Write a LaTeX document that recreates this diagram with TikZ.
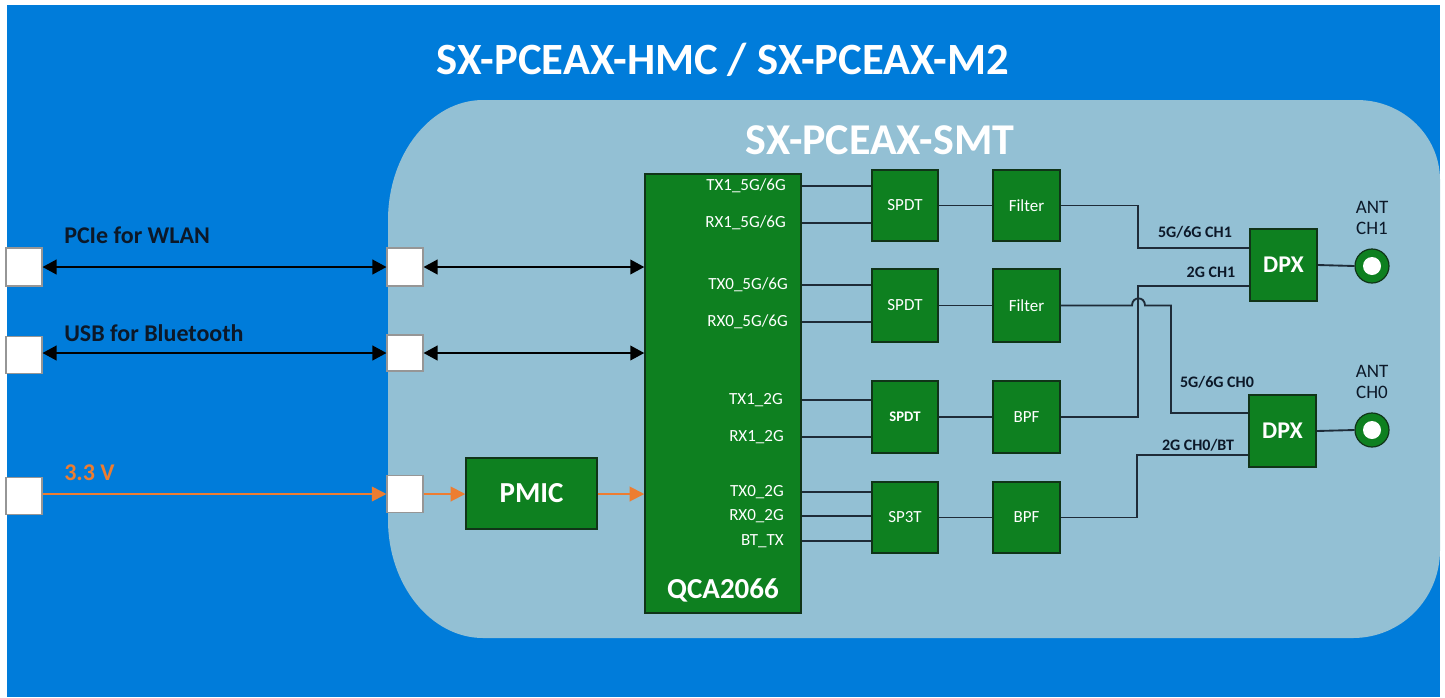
\documentclass[tikz,border=0pt]{standalone}
\usepackage{fontspec}
\setmainfont{Carlito}
\usetikzlibrary{arrows.meta}
\definecolor{bgblue}{RGB}{0,124,218}
\definecolor{smtblue}{RGB}{147,192,212}
\definecolor{chipgreen}{RGB}{14,128,32}
\definecolor{boxedge}{RGB}{16,52,24}
\definecolor{portedge}{RGB}{150,150,150}
\definecolor{rfline}{RGB}{30,43,56}
\definecolor{pwr}{RGB}{237,125,49}
\definecolor{darktxt}{RGB}{12,24,40}
\newcommand{\myfs}[1]{\fontsize{#1}{1.2\dimexpr#1\relax}\selectfont}
\begin{document}
\begin{tikzpicture}[x=0.75pt,y=-0.75pt,
  wh/.style 2 args={minimum width=#1*0.75pt, minimum height=#2*0.75pt},
  box/.style={draw=boxedge, fill=chipgreen, line width=1.1pt, inner sep=0pt, text=white},
  port/.style={draw=portedge, fill=white, line width=0.8pt, inner sep=0pt},
  pinlbl/.style={anchor=east, inner sep=0pt, text=white, font=\myfs{12.75pt}},
  chlbl/.style={inner sep=0pt, text=darktxt, font=\bfseries\myfs{12pt}},
  sidelbl/.style={anchor=west, inner sep=0pt, text=darktxt, font=\bfseries\myfs{18pt}},
  rf/.style={draw=rfline, line width=1.4pt},
  bus/.style={draw=black, line width=1.4pt, {Triangle[length=10.5pt,width=11pt]}-{Triangle[length=10.5pt,width=11pt]}},
  pwrline/.style={draw=pwr, line width=1.4pt, -{Triangle[length=11pt,width=11pt]}}
]
% backgrounds
\fill[white] (0,0) rectangle (1445,697);
\fill[bgblue] (7,5) rectangle (1440,697);
\fill[smtblue] (483,100) -- (1357,100) .. controls (1403,100) and (1440,136) .. (1440,180)
  -- (1440,550) .. controls (1440,599) and (1401,638) .. (1353,638)
  -- (483,638) .. controls (431,638) and (388,585) .. (388,520)
  -- (388,220) .. controls (388,154) and (431,100) .. (483,100) -- cycle;

% titles
\node[text=white, font=\bfseries\myfs{33.5pt}, inner sep=0pt] (title) at (723,60) {SX-PCEAX-HMC / SX-PCEAX-M2};
\node[text=white, font=\bfseries\myfs{33pt}, inner sep=0pt] (smt) at (880,140) {SX-PCEAX-SMT};

% ports
\node[port, wh={36}{38}] (sqL1) at (24,267) {};
\node[port, wh={36}{37}] (sqL2) at (24,355) {};
\node[port, wh={36}{37}] (sqL3) at (24,496) {};
\node[port, wh={36}{38}] (sqI1) at (405,267) {};
\node[port, wh={36}{36}] (sqI2) at (405,353) {};
\node[port, wh={36}{37}] (sqI3) at (405,494) {};

% side labels
\node[sidelbl] (lpcie) at (64,235) {PCIe for WLAN};
\node[sidelbl] (lusb) at (64,333) {USB for Bluetooth};
\node[sidelbl, text=pwr] (lpwr) at (64,473) {3.3 V};

% chip blocks
\node[box, wh={156}{439}] (qca) at (723,393.5) {};
\node[text=white, font=\bfseries\myfs{21.75pt}, inner sep=0pt] (qcalbl) at (723,590) {QCA2066};
\node[box, wh={131}{71}, font=\bfseries\myfs{21.75pt}] (pmic) at (531.5,493.5) {PMIC};

\node[box, wh={66}{71}, font=\myfs{12.75pt}] (spdt1) at (905,205.5) {SPDT};
\node[box, wh={67}{71}, font=\myfs{12.75pt}] (filt1) at (1026.5,205.5) {Filter};
\node[box, wh={66}{73}, font=\myfs{12.75pt}] (spdt2) at (905,305.5) {SPDT};
\node[box, wh={67}{73}, font=\myfs{12.75pt}] (filt2) at (1026.5,305.5) {Filter};
\node[box, wh={66}{72}, font=\bfseries\myfs{11pt}] (spdt3) at (905,417) {SPDT};
\node[box, wh={67}{72}, font=\myfs{12.75pt}] (bpf1) at (1026.5,417) {BPF};
\node[box, wh={66}{71}, font=\myfs{12.75pt}] (sp3t) at (905,517.5) {SP3T};
\node[box, wh={67}{71}, font=\myfs{12.75pt}] (bpf2) at (1026.5,517.5) {BPF};
\node[box, wh={67}{72}, font=\bfseries\myfs{18pt}] (dpx1) at (1283.5,265) {DPX};
\node[box, wh={67}{72}, font=\bfseries\myfs{18pt}] (dpx0) at (1282.5,431) {DPX};

% antennas
\node[circle, draw=boxedge, fill=chipgreen, line width=0.9pt, inner sep=0pt, wh={34}{34}] (ant1) at (1372,266) {};
\node[circle, fill=white, inner sep=0pt, wh={18}{18}] (ant1in) at (ant1) {};
\node[circle, draw=boxedge, fill=chipgreen, line width=0.9pt, inner sep=0pt, wh={34}{34}] (ant0) at (1372,430) {};
\node[circle, fill=white, inner sep=0pt, wh={18}{18}] (ant0in) at (ant0) {};
\node[align=center, text=darktxt, inner sep=0pt, font=\myfs{14.25pt}] (ant1lbl) at (1372,218) {ANT\\[-1pt]CH1};
\node[align=center, text=darktxt, inner sep=0pt, font=\myfs{14.25pt}] (ant0lbl) at (1372,382) {ANT\\[-1pt]CH0};

% pin labels
\node[pinlbl] (p1) at (786,186) {TX1\_5G/6G};
\node[pinlbl] (p2) at (786,223) {RX1\_5G/6G};
\node[pinlbl] (p3) at (788,285) {TX0\_5G/6G};
\node[pinlbl] (p4) at (788,322) {RX0\_5G/6G};
\node[pinlbl] (p5) at (783,400) {TX1\_2G};
\node[pinlbl] (p6) at (784,437) {RX1\_2G};
\node[pinlbl] (p7) at (784,492) {TX0\_2G};
\node[pinlbl] (p8) at (784,516) {RX0\_2G};
\node[pinlbl] (p9) at (784,541) {BT\_TX};

% pin connections
\draw[rf] (qca.east |- p1) -- (spdt1.west |- p1);
\draw[rf] (qca.east |- p2) -- (spdt1.west |- p2);
\draw[rf] (qca.east |- p3) -- (spdt2.west |- p3);
\draw[rf] (qca.east |- p4) -- (spdt2.west |- p4);
\draw[rf] (qca.east |- p5) -- (spdt3.west |- p5);
\draw[rf] (qca.east |- p6) -- (spdt3.west |- p6);
\draw[rf] (qca.east |- p7) -- (sp3t.west |- p7);
\draw[rf] (qca.east |- p8) -- (sp3t.west |- p8);
\draw[rf] (qca.east |- p9) -- (sp3t.west |- p9);

\draw[rf] (spdt1) -- (filt1);
\draw[rf] (spdt2) -- (filt2);
\draw[rf] (spdt3) -- (bpf1);
\draw[rf] (sp3t) -- (bpf2);

% routing to diplexers
\coordinate (k1) at (1138,248);
\coordinate (k2) at (1138,286);
\coordinate (k3) at (1171,413);
\coordinate (k4) at (1137,455);
\coordinate (h1) at (1132,305.5);
\coordinate (h2) at (1145,305.5);
\draw[rf] (filt1.east) -| (k1) -- (k1 -| dpx1.west);
\draw[rf] (bpf1.east) -| (k2) -- (k2 -| dpx1.west);
\draw[rf] (filt2.east) -- (h1) .. controls (1132,296) and (1145,296) .. (h2) -| (k3) -- (k3 -| dpx0.west);
\draw[rf] (bpf2.east) -| (k4) -- (k4 -| dpx0.west);
\draw[rf] (dpx1.east) -- (ant1.west);
\draw[rf] (dpx0.east) -- (ant0.west);

% channel labels
\node[chlbl] (l1) at (1195,232) {5G/6G CH1};
\node[chlbl] (l2) at (1211,272) {2G CH1};
\node[chlbl] (l3) at (1217,382) {5G/6G CH0};
\node[chlbl] (l4) at (1198,445) {2G CH0/BT};

% host buses
\draw[bus] (sqL1.east) -- (sqI1.west);
\draw[bus] (sqI1.east) -- (sqI1.east -| qca.west);
\draw[bus] (sqL2.east |- sqI2) -- (sqI2.west);
\draw[bus] (sqI2.east) -- (sqI2.east -| qca.west);

% power
\draw[pwrline] (sqL3.east |- sqI3) -- (sqI3.west);
\draw[pwrline] (sqI3.east) -- (sqI3.east -| pmic.west);
\draw[pwrline] (pmic.east |- sqI3) -- (sqI3 -| qca.west);
\end{tikzpicture}
\end{document}
